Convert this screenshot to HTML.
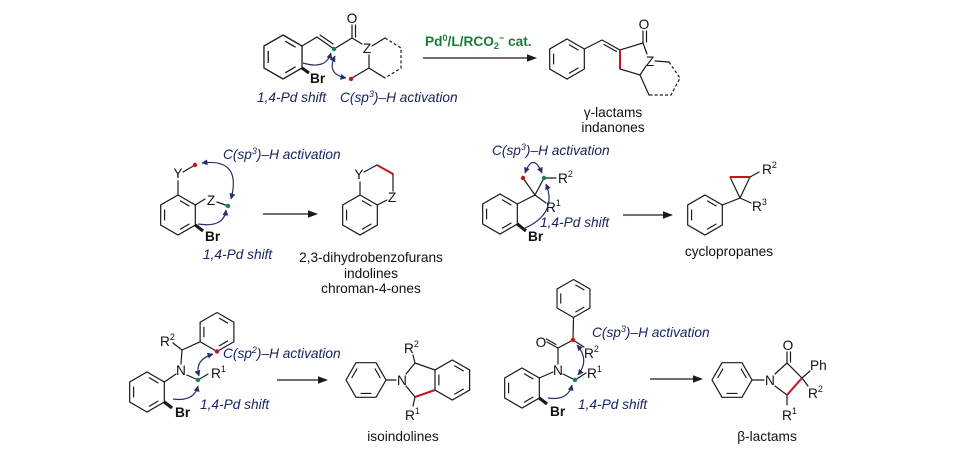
<!DOCTYPE html>
<html><head><meta charset="utf-8"><style>
html,body{margin:0;padding:0;background:#fff;}
svg{display:block;}
text{font-family:"Liberation Sans",Arial,sans-serif;font-size:13.7px;fill:#111;}
.lab{font-style:italic;fill:#1a2360;}
.cap{fill:#111;}
.b{stroke:#1a1a1a;stroke-width:1.2;fill:none;stroke-linecap:round;}
.br{stroke:#1a1a1a;stroke-width:3.2;fill:none;}
.red{stroke:#c8141e;stroke-width:2;fill:none;}
.dash{stroke:#1a1a1a;stroke-width:1.2;fill:none;stroke-dasharray:3 2.2;}
.ca{stroke:#24306a;stroke-width:1.2;fill:none;marker-end:url(#ah);}
.cad{stroke:#24306a;stroke-width:1.2;fill:none;marker-end:url(#ah);marker-start:url(#ahs);}
.arr{stroke:#1a1a1a;stroke-width:1.3;fill:none;}
</style></head><body>
<svg width="960" height="451" viewBox="0 0 960 451" xmlns="http://www.w3.org/2000/svg">
<defs>
<g id="hex">
<path d="M0,-20 L17.32,-10 L17.32,10 L0,20 L-17.32,10 L-17.32,-10 Z" stroke="#1a1a1a" stroke-width="1.2" fill="none"/>
<path d="M-13.42,-5.43 L-13.42,5.43 M2.01,-14.34 L11.41,-8.91 M11.41,8.91 L2.01,14.34" stroke="#1a1a1a" stroke-width="1.2" fill="none"/>
</g>
<marker id="ah" markerUnits="userSpaceOnUse" markerWidth="7" markerHeight="6" refX="5.5" refY="3" orient="auto"><path d="M0,0 L6,3 L0,6 Z" fill="#24306a"/></marker>
<marker id="ahs" markerUnits="userSpaceOnUse" markerWidth="7" markerHeight="6" refX="5.5" refY="3" orient="auto-start-reverse"><path d="M0,0 L6,3 L0,6 Z" fill="#24306a"/></marker>
</defs>
<rect width="960" height="451" fill="#fff"/>

<!-- ===== TOP REACTANT ===== -->
<use href="#hex" transform="translate(283,57) scale(1.1)"/>
<path class="br" d="M302,68 L309,73"/>
<text x="310" y="83" font-weight="bold">Br</text>
<path class="b" d="M302,46 L317,37 L334,49 L352,38 L362,44"/>
<path class="b" d="M320,35 L333,44"/>
<path class="b" d="M352,38 L352,25 M355.5,37 L355.5,25"/>
<text x="352" y="23" text-anchor="middle">O</text>
<text x="367" y="53" text-anchor="middle">Z</text>
<path class="b" d="M372,46 L385,38"/>
<path class="dash" d="M385,38 L401,48 L401,68 L385,78"/>
<path class="b" d="M385,78 L369,68 L369,55 M369,68 L352,78"/>
<circle cx="334" cy="49" r="2.2" fill="#1b7a66"/>
<circle cx="351" cy="79" r="2.2" fill="#c8141e"/>
<path class="ca" d="M303,63 Q326,70 331,53"/>
<path class="cad" d="M335,56 Q326,74 346,78"/>
<text class="lab" x="257" y="102">1,4-Pd shift</text>
<text class="lab" x="340" y="102">C(sp<tspan dy="-5" font-size="9">3</tspan><tspan dy="5">)–H activation</tspan></text>

<!-- top arrow -->
<path class="arr" d="M423,58 L529,58"/>
<polygon points="537,58 527,54.3 527,61.7" fill="#1a1a1a"/>
<text x="425" y="46" font-weight="bold" style="fill:#1d7a3a">Pd<tspan dy="-5" font-size="9">0</tspan><tspan dy="5">/L/RCO</tspan><tspan dy="3" font-size="9">2</tspan><tspan dy="-8" font-size="9">−</tspan><tspan dy="5"> cat.</tspan></text>

<!-- ===== TOP PRODUCT ===== -->
<use href="#hex" transform="translate(567,59)"/>
<path class="b" d="M584.3,49 L602,40 L620,50 L643,43"/>
<path class="b" d="M604,44.5 L616.5,51.5"/>
<path class="b" d="M643,43 L643,31 M646.5,42 L646.5,31"/>
<text x="644" y="29" text-anchor="middle">O</text>
<path class="b" d="M643,43 L647,54"/>
<text x="650" y="66" text-anchor="middle">Z</text>
<path class="red" d="M620,50 L620,69"/>
<path class="b" d="M620,69 L640,75 L646,66"/>
<path class="b" d="M655,61 L669,62"/>
<path class="dash" d="M669,62 L680,78 L671,95 L649,95"/>
<path class="b" d="M649,95 L640,75"/>
<text class="cap" x="613" y="117" text-anchor="middle">γ-lactams</text>
<text class="cap" x="613" y="132" text-anchor="middle">indanones</text>

<!-- ===== MIDDLE LEFT REACTANT ===== -->
<use href="#hex" transform="translate(178,215)"/>
<text x="178" y="178" text-anchor="middle">Y</text>
<path class="b" d="M178,195 L178,181 M183,172 L195,165"/>
<text x="211" y="205" text-anchor="middle">Z</text>
<path class="b" d="M195.3,205 L205,199 M217,202 L228,206"/>
<path class="br" d="M195.3,225 L203,231"/>
<text x="205" y="241" font-weight="bold">Br</text>
<circle cx="195" cy="165" r="2.2" fill="#c8141e"/>
<circle cx="228" cy="206" r="2.2" fill="#1b7a66"/>
<path class="cad" d="M202,163 Q242,158 231,199"/>
<path class="ca" d="M198,224 Q224,228 226,210"/>
<text class="lab" x="223" y="159">C(sp<tspan dy="-5" font-size="9">3</tspan><tspan dy="5">)–H activation</tspan></text>
<text class="lab" x="203" y="259">1,4-Pd shift</text>

<path class="arr" d="M263,214 L310,214"/>
<polygon points="318,214 308,210.3 308,217.7" fill="#1a1a1a"/>

<!-- ===== MIDDLE LEFT PRODUCT ===== -->
<use href="#hex" transform="translate(360,215)"/>
<text x="359" y="179" text-anchor="middle">Y</text>
<path class="b" d="M360,195 L360,182 M364,172 L377,165"/>
<path class="red" d="M377,165 L393,174"/>
<path class="b" d="M393,174 L393,191"/>
<text x="392" y="202" text-anchor="middle">Z</text>
<path class="b" d="M387,200 L377.3,205"/>
<text class="cap" x="371" y="262" text-anchor="middle">2,3-dihydrobenzofurans</text>
<text class="cap" x="371" y="278" text-anchor="middle">indolines</text>
<text class="cap" x="371" y="293" text-anchor="middle">chroman-4-ones</text>

<!-- ===== MIDDLE RIGHT REACTANT ===== -->
<use href="#hex" transform="translate(500,214)"/>
<path class="b" d="M517.3,204 L535,195 L523,178 M535,195 L544,178 L556,178 M535,195 L546,203"/>
<text x="558" y="183">R<tspan dy="-6" font-size="9">2</tspan></text>
<text x="546" y="212">R<tspan dy="-6" font-size="9">1</tspan></text>
<path class="br" d="M517.3,224 L526,231"/>
<text x="528" y="241" font-weight="bold">Br</text>
<circle cx="523" cy="178" r="2.2" fill="#c8141e"/>
<circle cx="544" cy="178" r="2.2" fill="#1b7a66"/>
<path class="cad" d="M525,173 Q533,152 542,173"/>
<path class="ca" d="M523,229 Q558,214 546,184"/>
<text class="lab" x="492" y="155">C(sp<tspan dy="-5" font-size="9">3</tspan><tspan dy="5">)–H activation</tspan></text>
<text class="lab" x="540" y="227">1,4-Pd shift</text>

<path class="arr" d="M623,215 L665,215"/>
<polygon points="673,215 663,211.3 663,218.7" fill="#1a1a1a"/>

<!-- ===== CYCLOPROPANE ===== -->
<use href="#hex" transform="translate(705,215)"/>
<path class="b" d="M722.3,205 L740,198 L730,177 M740,198 L750,177 L759,172 M740,198 L751,203"/>
<path class="red" d="M730,177 L750,177"/>
<text x="762" y="174">R<tspan dy="-6" font-size="9">2</tspan></text>
<text x="752" y="211">R<tspan dy="-6" font-size="9">3</tspan></text>
<text class="cap" x="729" y="256" text-anchor="middle">cyclopropanes</text>

<!-- ===== BOTTOM LEFT REACTANT ===== -->
<use href="#hex" transform="translate(147,392)"/>
<use href="#hex" transform="translate(217,332) scale(0.975)"/>
<text x="181" y="375" text-anchor="middle">N</text>
<path class="b" d="M164.3,382 L176,374 M181,364 L182,350 L173,343 M182,350 L200.1,341.8 M187,375 L198,380 L208,374"/>
<text x="160" y="346">R<tspan dy="-6" font-size="9">2</tspan></text>
<text x="211" y="378">R<tspan dy="-6" font-size="9">1</tspan></text>
<path class="br" d="M164.3,402 L172,408"/>
<text x="175" y="417" font-weight="bold">Br</text>
<circle cx="217" cy="351.5" r="2.2" fill="#c8141e"/>
<circle cx="198" cy="380" r="2.2" fill="#1b7a66"/>
<path class="cad" d="M213,354 Q194,360 199,376"/>
<path class="ca" d="M173,399 Q194,402 198,386"/>
<text class="lab" x="223" y="358">C(sp<tspan dy="-5" font-size="9">2</tspan><tspan dy="5">)–H activation</tspan></text>
<text class="lab" x="200" y="409">1,4-Pd shift</text>

<path class="arr" d="M277,380 L320,380"/>
<polygon points="328,380 318,376.3 318,383.7" fill="#1a1a1a"/>

<!-- ===== ISOINDOLINE ===== -->
<use href="#hex" transform="translate(366,380) rotate(30)"/>
<use href="#hex" transform="translate(452.3,380)"/>
<text x="402" y="385" text-anchor="middle">N</text>
<path class="b" d="M386,380 L396,380 M406,374 L415,363 L435,370 M415,363 L413,355 M406,386 L415,397 L413,406"/>
<path class="red" d="M415,397 L435,390"/>
<text x="404" y="353">R<tspan dy="-6" font-size="9">2</tspan></text>
<text x="405" y="420">R<tspan dy="-6" font-size="9">1</tspan></text>
<text class="cap" x="403" y="441" text-anchor="middle">isoindolines</text>

<!-- ===== BOTTOM RIGHT REACTANT ===== -->
<use href="#hex" transform="translate(573.5,298.5) scale(0.95)"/>
<use href="#hex" transform="translate(522,388)"/>
<path class="b" d="M573.5,317.5 L573,340 L558,348 L558,364 M573,340 L584,347 M539.3,378 L553,372 M563,374 L575,380 L586,373"/>
<path class="b" d="M558,348 L547,342 M556,344.5 L546.5,339"/>
<text x="541" y="347" text-anchor="middle">O</text>
<text x="558" y="375" text-anchor="middle">N</text>
<text x="584" y="358">R<tspan dy="-6" font-size="9">2</tspan></text>
<text x="587" y="378">R<tspan dy="-6" font-size="9">1</tspan></text>
<path class="br" d="M539.3,398 L547,404"/>
<text x="550" y="416" font-weight="bold">Br</text>
<circle cx="573" cy="340" r="2.2" fill="#c8141e"/>
<circle cx="575" cy="380" r="2.2" fill="#1b7a66"/>
<path class="cad" d="M577,345 Q590,360 578,375"/>
<path class="ca" d="M548,398 Q568,401 572,385"/>
<text class="lab" x="592" y="337">C(sp<tspan dy="-5" font-size="9">3</tspan><tspan dy="5">)–H activation</tspan></text>
<text class="lab" x="578" y="409">1,4-Pd shift</text>

<path class="arr" d="M650,379 L695,379"/>
<polygon points="703,379 693,375.3 693,382.7" fill="#1a1a1a"/>

<!-- ===== BETA-LACTAM ===== -->
<use href="#hex" transform="translate(732,380) rotate(30)"/>
<text x="770" y="385" text-anchor="middle">N</text>
<path class="b" d="M752,380 L764,380 M775,374 L787,363 L802,378 L810,371 M802,378 L808,386 M775,386 L787,395 L787,405"/>
<path class="b" d="M787,363 L787,352 M790.5,362 L790.5,352"/>
<path class="red" d="M787,395 L802,378"/>
<text x="788" y="350" text-anchor="middle">O</text>
<text x="810" y="370">Ph</text>
<text x="808" y="398">R<tspan dy="-6" font-size="9">2</tspan></text>
<text x="782" y="420">R<tspan dy="-6" font-size="9">1</tspan></text>
<text class="cap" x="767" y="441" text-anchor="middle">β-lactams</text>
</svg>
</body></html>
